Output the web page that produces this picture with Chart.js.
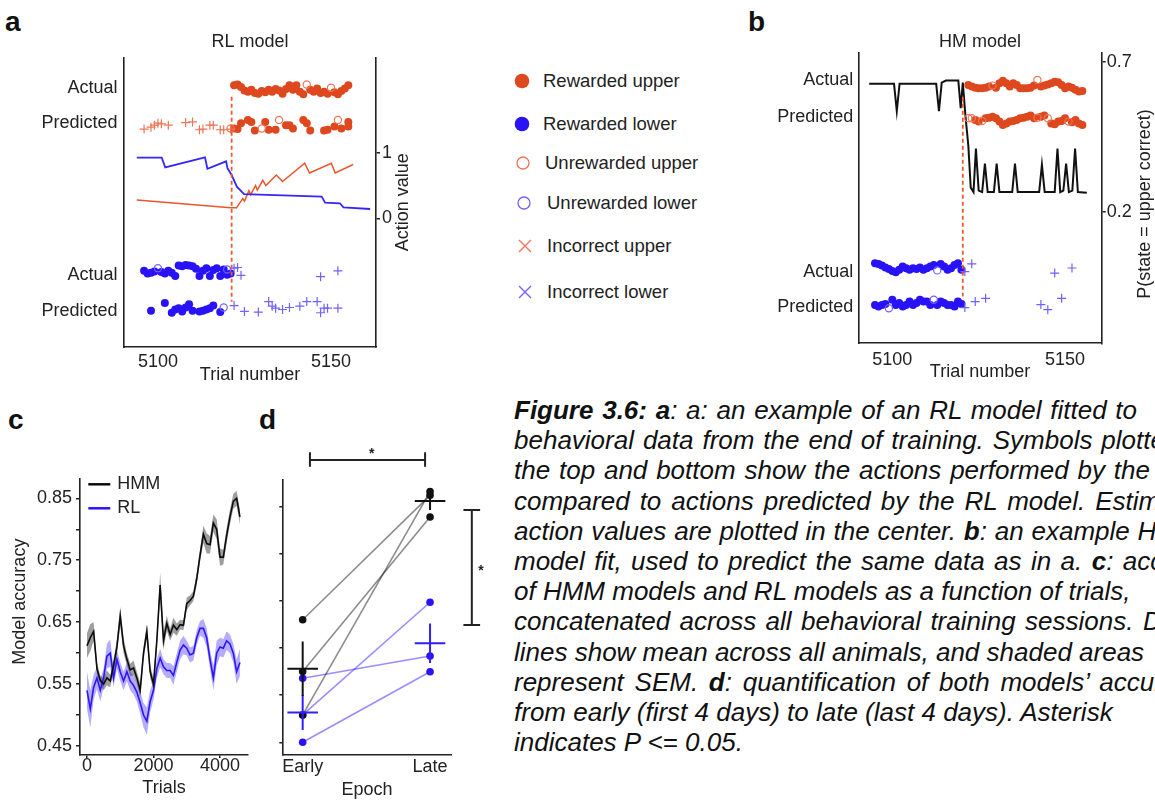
<!DOCTYPE html>
<html>
<head>
<meta charset="UTF-8">
<title>Figure 3.6 - RL vs HMM model fits</title>
<script src="https://cdn.jsdelivr.net/npm/chart.js@4.4.1/dist/chart.umd.min.js"></script>
<style>
  body { margin: 0; width: 1155px; height: 801px; overflow: hidden; background: #fff; position: relative;
         font-family: 'Liberation Sans', Arial, sans-serif; color: #111; }
  canvas { position: absolute; }
  .lab { position: absolute; font-weight: bold; font-size: 28px; line-height: 28px; }
  .leg { position: absolute; font-size: 18.5px; line-height: 22px; white-space: nowrap; color: #222; }
  .legmark { position: absolute; }
  #caption { position: absolute; left: 514px; top: 395px; font-style: italic; font-size: 26px;
             line-height: 30.2px; white-space: nowrap; }
</style>
</head>
<body>
<div class="lab" style="left:5px; top:8px;">a</div>
<div class="lab" style="left:748px; top:8px;">b</div>
<div class="lab" style="left:8px; top:406px;">c</div>
<div class="lab" style="left:259px; top:406px;">d</div>

<canvas id="chartA" width="430" height="390" style="left:0px; top:0px;"></canvas>
<canvas id="chartB" width="415" height="390" style="left:740px; top:0px;"></canvas>
<canvas id="chartC" width="260" height="406" style="left:0px; top:395px;"></canvas>
<canvas id="chartD" width="240" height="406" style="left:260px; top:395px;"></canvas>
<div id="legend"></div>

<div id="caption">
<div style="word-spacing:1.5px"><b>Figure 3.6: a</b>: a: an example of an RL model fitted to</div>
<div style="word-spacing:1.7px">behavioral data from the end of training. Symbols plotted at</div>
<div style="word-spacing:1.6px">the top and bottom show the actions performed by the animal</div>
<div style="word-spacing:2.8px">compared to actions predicted by the RL model. Estimated</div>
<div style="word-spacing:0.6px">action values are plotted in the center. <b>b</b>: an example HMM</div>
<div style="word-spacing:2.2px">model fit, used to predict the same data as in a. <b>c</b>: accuracy</div>
<div>of HMM models and RL models as a function of trials,</div>
<div style="word-spacing:2.2px">concatenated across all behavioral training sessions. Dark</div>
<div>lines show mean across all animals, and shaded areas</div>
<div style="word-spacing:3.5px">represent SEM. <b>d</b>: quantification of both models’ accuracy</div>
<div>from early (first 4 days) to late (last 4 days). Asterisk</div>
<div>indicates P &lt;= 0.05.</div>
</div>

<script>
// ---------- panel a : RL model (trial, value) ----------
// rows: action value units, rows placed above/below the value lines
const aRowLabels = ['Actual', 'Predicted', 'Actual', 'Predicted'];
const aRowPos = [1.986, 1.448, -0.872, -1.413];

const aActUpRew = [[5122,2.03],[5123,2.04],[5124,2.0],[5125,1.95],[5126,1.93],[5127,1.96],[5128,1.91],[5129,1.9],
  [5130,1.94],[5131,1.92],[5132,1.96],[5133,1.93],[5134,1.97],[5135,1.95],[5136,1.9],[5137,1.97],[5138,2.03],
  [5139,1.96],[5140,2.03],[5141,1.93],[5142,1.89],[5144,1.96],[5145,1.93],[5146,1.98],[5147,1.91],[5148,1.93],
  [5149,1.9],[5151,1.92],[5152,1.89],[5153,1.94],[5154,1.98],[5155,2.03]];
const aActUpUnrew = [[5143,2.04],[5150,1.99]];
const aPredUpRew = [[5122,1.37],[5123,1.36],[5124,1.45],[5126,1.5],[5127,1.47],[5128,1.34],[5131,1.47],[5132,1.35],
  [5134,1.35],[5137,1.42],[5138,1.42],[5139,1.37],[5142,1.5],[5143,1.45],[5144,1.34],[5148,1.34],[5149,1.35],
  [5151,1.4],[5153,1.37],[5155,1.47],[5155,1.4]];
const aPredUpUnrew = [[5121,1.37],[5130,1.37],[5135,1.5],[5152,1.5]];
const aPredUpWrong = [[5096,1.36],[5098,1.39],[5099,1.42],[5100,1.45],[5101,1.44],[5103,1.42],[5108,1.46],
  [5110,1.47],[5112,1.35],[5113,1.36],[5115,1.42],[5116,1.42],[5118,1.35],[5119,1.35],[5121,1.36]];
const aActLowRew = [[5096,-0.8],[5097,-0.84],[5098,-0.83],[5099,-0.81],[5101,-0.82],[5102,-0.84],[5103,-0.8],
  [5104,-0.83],[5105,-0.88],[5106,-0.72],[5107,-0.73],[5108,-0.71],[5109,-0.72],[5110,-0.73],[5111,-0.77],
  [5112,-0.88],[5113,-0.8],[5114,-0.76],[5115,-0.88],[5116,-0.79],[5117,-0.76],[5118,-0.88],[5119,-0.78],
  [5120,-0.86],[5121,-0.84]];
const aActLowUnrew = [[5100,-0.76],[5120,-0.78]];
const aActLowWrong = [[5122,-0.76],[5123,-0.75],[5124,-0.87],[5147,-0.89],[5152,-0.8]];
const aPredLowRew = [[5098,-1.41],[5102,-1.29],[5104,-1.44],[5105,-1.39],[5106,-1.37],[5107,-1.42],[5108,-1.36],
  [5109,-1.31],[5110,-1.41],[5112,-1.42],[5113,-1.41],[5114,-1.39],[5115,-1.37],[5116,-1.33],[5118,-1.43]];
const aPredLowUnrew = [[5119,-1.36]];
const aPredLowWrong = [[5122,-1.33],[5125,-1.42],[5129,-1.43],[5132,-1.27],[5133,-1.34],[5134,-1.37],[5136,-1.39],
  [5138,-1.36],[5141,-1.34],[5143,-1.27],[5146,-1.27],[5147,-1.44],[5148,-1.37],[5149,-1.37],[5152,-1.37]];

// action values
const aLowerValTrials = [5093.9, 5101.1, 5102.1, 5113.6, 5114.3, 5119.7, 5120.1, 5121.3, 5122.8, 5124.9,
  5147.3, 5148.3, 5152.6, 5153.6, 5161.3];
const aLowerVal = [0.924, 0.924, 0.777, 0.93, 0.756, 0.869, 0.762, 0.66, 0.482, 0.37, 0.33, 0.238, 0.229, 0.168, 0.142];
const aUpperValTrials = [5093.9, 5121, 5122.7, 5124.5, 5125, 5126.3, 5126.8, 5128.2, 5128.7, 5130.3, 5131.2,
  5134.2, 5136, 5142.4, 5143.8, 5150.1, 5151.2, 5156.4];
const aUpperVal = [0.28, 0.16, 0.16, 0.3, 0.26, 0.42, 0.36, 0.5, 0.43, 0.58, 0.5, 0.66, 0.56, 0.84, 0.69, 0.84, 0.69, 0.82];
const aSwitchTrial = 5121.3;
const aSwitchSpan = [1.854, -1.271];

// ---------- panel b : HM model ----------
const bRowPos = [0.639, 0.514, 0.0, -0.119];
const bActUpRew = [[5122,.622],[5123,.617],[5124,.613],[5125,.611],[5126,.611],[5127,.613],[5128,.617],[5130,.613],
  [5131,.628],[5132,.636],[5133,.628],[5134,.617],[5135,.628],[5136,.622],[5137,.611],[5138,.611],[5139,.611],
  [5140,.613],[5141,.62],[5143,.617],[5144,.62],[5145,.624],[5146,.628],[5147,.633],[5148,.631],[5149,.622],
  [5150,.611],[5151,.617],[5152,.613],[5153,.606],[5154,.6],[5155,.602]];
const bActUpUnrew = [[5129,.62],[5142,.639]];
const bPredUpRew = [[5124,.505],[5125,.5],[5127,.511],[5128,.513],[5129,.516],[5130,.511],[5131,.5],[5132,.489],
  [5133,.494],[5134,.5],[5135,.502],[5136,.505],[5137,.511],[5138,.513],[5139,.516],[5140,.52],[5141,.511],
  [5143,.516],[5144,.52],[5146,.494],[5147,.491],[5148,.5],[5149,.502],[5150,.511],[5152,.498],[5153,.505],
  [5154,.494],[5155,.489]];
const bPredUpUnrew = [[5122,.511],[5123,.511],[5126,.502],[5142,.513],[5145,.511],[5151,.5]];
const bActLowRew = [[5095,.028],[5096,.025],[5097,.02],[5098,.014],[5099,.009],[5100,.002],[5101,-.002],[5102,.006],
  [5103,.017],[5104,.011],[5105,.006],[5106,.011],[5107,.009],[5108,.014],[5109,.006],[5110,.011],[5111,.017],
  [5112,.022],[5114,.025],[5115,.017],[5116,.006],[5117,.011],[5118,.022],[5119,.028],[5120,.006]];
const bActLowUnrew = [[5113,.004]];
const bActLowWrong = [[5121,0.0],[5123,.026],[5147,-.005],[5152,.012]];
const bPredLowRew = [[5095,-.111],[5096,-.116],[5097,-.111],[5098,-.108],[5100,-.094],[5101,-.111],[5102,-.105],
  [5103,-.116],[5104,-.111],[5105,-.1],[5106,-.111],[5107,-.105],[5108,-.094],[5109,-.1],[5110,-.1],[5111,-.111],
  [5113,-.111],[5114,-.1],[5115,-.105],[5116,-.111],[5117,-.111],[5118,-.116],[5119,-.1],[5120,-.108]];
const bPredLowUnrew = [[5099,-.122],[5112,-.094]];
const bPredLowWrong = [[5121,-.12],[5124,-.1],[5127,-.089],[5143,-.11],[5145,-.127],[5149,-.089]];

const bPTrials = [5093.3, 5100.5, 5101.3, 5102.1, 5112.7, 5113.5, 5114.3, 5115.5, 5119.1, 5119.8, 5120.4, 5121.2,
  5122, 5122.7, 5123.5, 5124.2, 5125, 5126, 5126.8, 5127.6, 5129.4, 5130.2, 5131, 5134.7, 5135.5, 5136.3,
  5142.5, 5143.3, 5144.1, 5147, 5147.8, 5148.6, 5149.5, 5150.3, 5151.1, 5152.1, 5152.9, 5153.7, 5156.3];
const bPUpper = [0.626, 0.626, 0.535, 0.626, 0.626, 0.535, 0.63, 0.637, 0.637, 0.545, 0.63, 0.515,
  0.42, 0.28, 0.265, 0.41, 0.27, 0.265, 0.36, 0.265, 0.265, 0.36, 0.265, 0.265, 0.36, 0.265,
  0.265, 0.356, 0.265, 0.265, 0.41, 0.265, 0.27, 0.36, 0.265, 0.27, 0.41, 0.265, 0.263];
const bSwitchTrial = 5120.4;
const bSwitchSpan = [0.583, -0.083];

// ---------- panel c : accuracy over trials ----------
const cSeriesNames = ['HMM', 'RL'];
const cTrials = [0,100,200,300,400,500,600,700,800,900,1000,1100,1200,1300,1400,1500,1600,1700,1800,1900,
  2000,2100,2200,2300,2400,2500,2600,2700,2800,2900,3000,3100,3200,3300,3400,3500,3600,3700,3800,3900,
  4000,4100,4200,4300,4400,4500,4600];
const hmmAcc = [0.612,0.625,0.635,0.575,0.556,0.55,0.56,0.555,0.58,0.61,
  0.66,0.612,0.59,0.573,0.576,0.56,0.54,0.6,0.635,0.57,
  0.55,0.62,0.71,0.62,0.648,0.63,0.645,0.638,0.646,0.645,
  0.68,0.685,0.692,0.72,0.758,0.792,0.777,0.775,0.81,0.8,
  0.755,0.755,0.79,0.82,0.845,0.85,0.82];
const hmmSem = [0.02,0.022,0.015,0.01,0.008,0.01,0.012,0.01,0.01,0.012,
  0.015,0.012,0.01,0.01,0.012,0.01,0.012,0.01,0.012,0.01,
  0.01,0.012,0.02,0.015,0.012,0.01,0.012,0.01,0.008,0.008,
  0.01,0.008,0.008,0.01,0.01,0.014,0.016,0.014,0.014,0.016,
  0.014,0.012,0.012,0.012,0.012,0.012,0.012];
const rlAcc = [0.54,0.51,0.545,0.56,0.54,0.56,0.595,0.6,0.56,0.59,
  0.57,0.555,0.57,0.555,0.548,0.537,0.52,0.5,0.49,0.522,
  0.54,0.575,0.592,0.578,0.572,0.572,0.564,0.585,0.605,0.613,
  0.608,0.597,0.6,0.625,0.64,0.64,0.625,0.59,0.56,0.6,
  0.61,0.608,0.62,0.615,0.6,0.57,0.585];
const rlSem = [0.03,0.03,0.02,0.018,0.018,0.015,0.02,0.022,0.015,0.015,
  0.015,0.015,0.015,0.015,0.015,0.015,0.018,0.02,0.022,0.018,
  0.015,0.015,0.015,0.012,0.012,0.012,0.015,0.015,0.015,0.015,
  0.012,0.012,0.012,0.012,0.012,0.015,0.015,0.015,0.02,0.02,
  0.015,0.015,0.015,0.015,0.015,0.02,0.022];
const cTickVals = [0.45, 0.5, 0.55, 0.6, 0.65, 0.7, 0.75, 0.8, 0.85];
const cTickLabels = ['0.45', '', '0.55', '', '0.65', '', '0.75', '', '0.85'];
const cTrialTicks = [0, 2000, 4000];

// ---------- panel d : early vs late ----------
const dEpochs = ['Early', 'Late'];
const dHmmEarly = [0.58, 0.525, 0.479];
const dHmmLate = [0.712, 0.689, 0.716];
const dRlEarly = [0.518, 0.479, 0.45];
const dRlLate = [0.5416, 0.5986, 0.5249];
const dHmmMean = [0.528, 0.706];
const dHmmSem = [0.029, 0.0095];
const dRlMean = [0.4815, 0.555];
const dRlSem = [0.0186, 0.021];
const dTickVals = [0.45, 0.5, 0.55, 0.6, 0.65, 0.7];
const sigTopX = [0.057, 0.057, 0.057, 0.961, 0.961, 0.961];
const sigTopY = [0.7424, 0.7577, 0.7496, 0.7496, 0.7577, 0.7424];
const sigRightX = [1.262, 1.393, 1.328, 1.328, 1.262, 1.393];
const sigRightY = [0.6965, 0.6965, 0.6965, 0.5745, 0.5745, 0.5745];
const sigStars = [[0.542, 0.7584], [1.40, 0.6346]];

// ---------- legend (between a and b) ----------
const legendLabels = ['Rewarded upper', 'Rewarded lower', 'Unrewarded upper', 'Unrewarded lower',
  'Incorrect upper', 'Incorrect lower'];
const legendKinds = ['filled', 'filled', 'open', 'open', 'cross', 'cross'];

// ---------- styling ----------
const RED = 'rgb(222,72,30)';
const RED_LIGHT = 'rgb(238,118,88)';
const BLUE = 'rgb(40,18,246)';
const BLUE_LIGHT = 'rgb(112,98,255)';
const AX = '#222';
const FONT = "'Liberation Sans', Arial, sans-serif";

Chart.defaults.font.family = FONT;
Chart.defaults.font.size = 18;
Chart.defaults.color = AX;
Chart.defaults.animation = false;
Chart.defaults.responsive = false;
Chart.defaults.devicePixelRatio = 1;
Chart.defaults.events = [];
Chart.defaults.plugins.legend.display = false;
Chart.defaults.plugins.tooltip.enabled = false;

function pts(arr) { return arr.map(p => ({x: p[0], y: p[1]})); }
function zip(xs, ys) { return xs.map((x, i) => ({x: x, y: ys[i]})); }
function fixedTicks(vals) { return s => { s.ticks = vals.map(v => ({value: v})); }; }
const border = {color: AX, width: 1.6};
const noGrid = {display: false, drawTicks: false};
function tickMarks(len) {
  return {display: true, drawOnChartArea: false, drawTicks: true, tickLength: len, color: AX, lineWidth: 1.5};
}

function filled(data, color) {
  return {type: 'scatter', data: pts(data), pointStyle: 'circle', pointRadius: 4,
          backgroundColor: color, borderColor: color, borderWidth: 0, order: 2};
}
function open(data, color) {
  return {type: 'scatter', data: pts(data), pointStyle: 'circle', pointRadius: 3.6,
          backgroundColor: 'rgba(255,255,255,0)', borderColor: color, borderWidth: 1.2, order: 1};
}
function plus(data, color) {
  return {type: 'scatter', data: pts(data), pointStyle: 'cross', pointRadius: 4.5,
          borderColor: color, borderWidth: 1.2, order: 1};
}
function line(data, color, width, order) {
  return {type: 'line', data: data, borderColor: color, borderWidth: width, pointRadius: 0,
          tension: 0, fill: false, order: order};
}
function dashed(trial, span) {
  return {type: 'line', data: [{x: trial, y: span[0]}, {x: trial, y: span[1]}], borderColor: 'rgb(232,92,52)',
          borderWidth: 1.8, borderDash: [4, 3], pointRadius: 0, order: 0};
}

// rotated axis label beside the plot (reads bottom to top)
const sideTitle = {
  id: 'sideTitle',
  afterDraw(chart, args, opts) {
    const a = chart.chartArea, ctx = chart.ctx;
    const x = opts.side === 'left' ? a.left - opts.offset : a.right + opts.offset;
    ctx.save();
    ctx.font = '18px ' + FONT;
    ctx.fillStyle = AX;
    ctx.textAlign = 'center';
    ctx.textBaseline = 'middle';
    ctx.translate(x, (a.top + a.bottom) / 2 + (opts.dy || 0));
    ctx.rotate(-Math.PI / 2);
    ctx.fillText(opts.text, 0, 0);
    ctx.restore();
  }
};

// legend inside the plot of panel c
const innerLegend = {
  id: 'innerLegend',
  afterDraw(chart, args, opts) {
    const a = chart.chartArea, ctx = chart.ctx;
    ctx.save();
    ctx.font = '18px ' + FONT;
    ctx.textBaseline = 'middle';
    opts.items.forEach((it, i) => {
      const y = a.top + opts.top + i * opts.gap;
      ctx.strokeStyle = it.color;
      ctx.lineWidth = 2.5;
      ctx.beginPath();
      ctx.moveTo(a.left + opts.left, y);
      ctx.lineTo(a.left + opts.left + opts.len, y);
      ctx.stroke();
      ctx.fillStyle = AX;
      ctx.fillText(it.text, a.left + opts.left + opts.len + 7, y);
    });
    ctx.restore();
  }
};

// significance asterisks for panel d
const stars = {
  id: 'stars',
  afterDatasetsDraw(chart, args, opts) {
    const ctx = chart.ctx, x = chart.scales.x, y = chart.scales.y;
    ctx.save();
    ctx.font = 'bold 14px ' + FONT;
    ctx.fillStyle = AX;
    ctx.textAlign = 'center';
    ctx.textBaseline = 'middle';
    opts.points.forEach(p => ctx.fillText('*', x.getPixelForValue(p[0]), y.getPixelForValue(p[1]) + 3));
    ctx.restore();
  }
};

// ---------- chart a ----------
new Chart(document.getElementById('chartA'), {
  type: 'scatter',
  data: {
    datasets: [
      dashed(aSwitchTrial, aSwitchSpan),
      filled(aActUpRew, RED), open(aActUpUnrew, RED_LIGHT),
      filled(aPredUpRew, RED), open(aPredUpUnrew, RED_LIGHT), plus(aPredUpWrong, RED_LIGHT),
      filled(aActLowRew, BLUE), open(aActLowUnrew, BLUE_LIGHT), plus(aActLowWrong, BLUE_LIGHT),
      filled(aPredLowRew, BLUE), open(aPredLowUnrew, BLUE_LIGHT), plus(aPredLowWrong, BLUE_LIGHT),
      line(zip(aLowerValTrials, aLowerVal), 'rgb(52,40,246)', 1.8, 5),
      line(zip(aUpperValTrials, aUpperVal), 'rgb(232,86,46)', 1.5, 5)
    ]
  },
  options: {
    layout: {padding: 0},
    plugins: {
      title: {display: true, text: 'RL model', color: AX, font: {size: 18, weight: 'normal'}, fullSize: false,
              padding: {top: 31, bottom: 5}},
      sideTitle: {text: 'Action value', offset: 27}
    },
    scales: {
      x: {type: 'linear', position: 'bottom', min: 5090.2, max: 5163,
          afterBuildTicks: fixedTicks([5100, 5150]),
          ticks: {callback: v => String(v), maxRotation: 0, padding: 4},
          grid: noGrid, border: border,
          title: {display: true, text: 'Trial number', padding: {top: 0, bottom: 4}},
          afterFit: s => { s.height = 43; }},
      y: {type: 'linear', position: 'right', min: -1.962, max: 2.45,
          afterBuildTicks: fixedTicks([0, 1]),
          ticks: {callback: v => String(v), padding: 2},
          grid: tickMarks(4), border: border,
          afterFit: s => { s.width = 54; }},
      yl: {type: 'linear', position: 'left', min: -1.962, max: 2.45,
           afterBuildTicks: fixedTicks(aRowPos),
           ticks: {callback: (v, i) => aRowLabels[i], padding: 6.5},
           grid: noGrid, border: border,
           afterFit: s => { s.width = 124; }}
    }
  },
  plugins: [sideTitle]
});

// ---------- chart b ----------
new Chart(document.getElementById('chartB'), {
  type: 'scatter',
  data: {
    datasets: [
      dashed(bSwitchTrial, bSwitchSpan),
      filled(bActUpRew, RED), open(bActUpUnrew, RED_LIGHT),
      filled(bPredUpRew, RED), open(bPredUpUnrew, RED_LIGHT),
      filled(bActLowRew, BLUE), open(bActLowUnrew, BLUE_LIGHT), plus(bActLowWrong, BLUE_LIGHT),
      filled(bPredLowRew, BLUE), open(bPredLowUnrew, BLUE_LIGHT), plus(bPredLowWrong, BLUE_LIGHT),
      line(zip(bPTrials, bPUpper), '#111', 2, 5)
    ]
  },
  options: {
    layout: {padding: 0},
    plugins: {
      title: {display: true, text: 'HM model', color: AX, font: {size: 18, weight: 'normal'}, fullSize: false,
              padding: {top: 31, bottom: 0}},
      sideTitle: {text: 'P(state = upper correct)', offset: 43.3, dy: 6}
    },
    scales: {
      x: {type: 'linear', position: 'bottom', min: 5090.16, max: 5160.6,
          afterBuildTicks: fixedTicks([5100, 5150]),
          ticks: {callback: v => String(v), maxRotation: 0, padding: 5.6},
          grid: noGrid, border: border,
          title: {display: true, text: 'Trial number', padding: {top: 0, bottom: 6.7}},
          afterFit: s => { s.height = 46.7; }},
      y: {type: 'linear', position: 'right', min: -0.239, max: 0.730,
          afterBuildTicks: fixedTicks([0.2, 0.7]),
          ticks: {callback: v => v.toFixed(1), padding: 1},
          grid: tickMarks(4), border: border,
          afterFit: s => { s.width = 53.3; }},
      yl: {type: 'linear', position: 'left', min: -0.239, max: 0.730,
           afterBuildTicks: fixedTicks(bRowPos),
           ticks: {callback: (v, i) => aRowLabels[i], padding: 5},
           grid: noGrid, border: border,
           afterFit: s => { s.width = 118.3; }}
    }
  },
  plugins: [sideTitle]
});

// ---------- chart c ----------
const hmmHi = hmmAcc.map((v, i) => v + hmmSem[i]);
const hmmLo = hmmAcc.map((v, i) => v - hmmSem[i]);
const rlHi = rlAcc.map((v, i) => v + rlSem[i]);
const rlLo = rlAcc.map((v, i) => v - rlSem[i]);
const HMM_COL = '#0c0c0c';
const RL_COL = 'rgb(44,22,250)';

new Chart(document.getElementById('chartC'), {
  type: 'line',
  data: {
    datasets: [
      line(zip(cTrials, hmmAcc), HMM_COL, 1.6, 1),
      line(zip(cTrials, rlAcc), RL_COL, 1.6, 2),
      {type: 'line', data: zip(cTrials, hmmHi), borderWidth: 0, pointRadius: 0, fill: '+1',
       backgroundColor: 'rgba(40,40,40,0.45)', order: 3},
      {type: 'line', data: zip(cTrials, hmmLo), borderWidth: 0, pointRadius: 0, fill: false, order: 3},
      {type: 'line', data: zip(cTrials, rlHi), borderWidth: 0, pointRadius: 0, fill: '+1',
       backgroundColor: 'rgba(90,70,255,0.45)', order: 4},
      {type: 'line', data: zip(cTrials, rlLo), borderWidth: 0, pointRadius: 0, fill: false, order: 4}
    ]
  },
  options: {
    layout: {padding: {top: 83.3, right: 12, left: 0, bottom: 0}},
    plugins: {
      innerLegend: {items: [{text: cSeriesNames[0], color: HMM_COL}, {text: cSeriesNames[1], color: RL_COL}],
                    left: 8.3, top: 6, gap: 24, len: 22},
      sideTitle: {text: 'Model accuracy', side: 'left', offset: 60, dy: -15}
    },
    scales: {
      x: {type: 'linear', position: 'bottom', min: -210, max: 4842,
          afterBuildTicks: fixedTicks(cTrialTicks),
          ticks: {callback: v => String(v), maxRotation: 0, padding: -3},
          grid: tickMarks(3), border: border,
          title: {display: true, text: 'Trials', padding: {top: 0, bottom: 2}},
          afterFit: s => { s.height = 46; }},
      y: {type: 'linear', position: 'left', min: 0.4355, max: 0.8823,
          afterBuildTicks: fixedTicks(cTickVals),
          ticks: {callback: (v, i) => cTickLabels[i], padding: 4},
          grid: tickMarks(4), border: border,
          afterFit: s => { s.width = 80; }}
    }
  },
  plugins: [innerLegend, sideTitle]
});

// ---------- chart d ----------
const GRAY_LINK = 'rgba(0,0,0,0.45)';
const BLUE_LINK = 'rgba(70,50,255,0.55)';
function pairLines(early, late, lineCol, dotCol) {
  return early.map((e, i) => ({
    type: 'line', data: [{x: 0, y: e}, {x: 1, y: late[i]}], borderColor: lineCol, borderWidth: 1.6,
    pointRadius: 3.8, pointBackgroundColor: dotCol, pointBorderWidth: 0, order: 4
  }));
}
function crosses(mean, sem, col) {
  const half = 0.12;
  const data = [];
  mean.forEach((m, i) => {
    data.push({x: i - half, y: m}, {x: i + half, y: m}, {x: i, y: null},
              {x: i, y: m - sem[i]}, {x: i, y: m + sem[i]}, {x: i, y: null});
  });
  return {type: 'line', data: data, borderColor: col, borderWidth: 2, pointRadius: 0, spanGaps: false, order: 1};
}
function bracket(xs, ys) {
  return {type: 'line', data: zip(xs, ys), borderColor: AX, borderWidth: 2, pointRadius: 0, clip: false, order: 0};
}

new Chart(document.getElementById('chartD'), {
  type: 'line',
  data: {
    datasets: [
      ...pairLines(dHmmEarly, dHmmLate, GRAY_LINK, '#111'),
      ...pairLines(dRlEarly, dRlLate, BLUE_LINK, 'rgb(40,18,246)'),
      crosses(dHmmMean, dHmmSem, '#111'),
      crosses(dRlMean, dRlSem, 'rgb(50,30,250)'),
      bracket(sigTopX, sigTopY),
      bracket(sigRightX, sigRightY)
    ]
  },
  options: {
    layout: {padding: {top: 85, right: 48.3, left: 0, bottom: 0}},
    plugins: {stars: {points: sigStars}},
    scales: {
      x: {type: 'linear', position: 'bottom', min: -0.16, max: 1.17,
          afterBuildTicks: fixedTicks([0, 1]),
          ticks: {callback: (v, i) => dEpochs[i], maxRotation: 0, padding: 1},
          grid: noGrid, border: border,
          title: {display: true, text: 'Epoch', padding: {top: 0, bottom: 0}},
          afterFit: s => { s.height = 46; }},
      y: {type: 'linear', position: 'left', min: 0.4365, max: 0.7283,
          afterBuildTicks: fixedTicks(dTickVals),
          ticks: {callback: () => '', padding: 0},
          grid: tickMarks(3), border: border,
          afterFit: s => { s.width = 22.3; }}
    }
  },
  plugins: [stars]
});

// ---------- marker legend between panels a and b ----------
const legendColors = [RED, BLUE, RED_LIGHT, BLUE_LIGHT, RED_LIGHT, BLUE_LIGHT];
const legendY = [81, 123.5, 163, 203, 246, 292];
const legendMarkX = [522, 522, 523, 523.5, 524.5, 524.5];
const legendTextX = [543, 543, 545, 547, 547, 547];
function markerSvg(kind, color) {
  let shape;
  if (kind === 'filled') shape = '<circle cx="8" cy="8" r="7.3" fill="' + color + '"/>';
  else if (kind === 'open') shape = '<circle cx="8" cy="8" r="6" fill="none" stroke="' + color + '" stroke-width="1.3"/>';
  else shape = '<path d="M2,2 L14,14 M14,2 L2,14" stroke="' + color + '" stroke-width="1.4"/>';
  return '<svg width="16" height="16" viewBox="0 0 16 16">' + shape + '</svg>';
}
const legendBox = document.getElementById('legend');
legendLabels.forEach((label, i) => {
  const m = document.createElement('div');
  m.className = 'legmark';
  m.style.left = (legendMarkX[i] - 8) + 'px';
  m.style.top = (legendY[i] - 8) + 'px';
  m.innerHTML = markerSvg(legendKinds[i], legendColors[i]);
  legendBox.appendChild(m);
  const t = document.createElement('div');
  t.className = 'leg';
  t.style.left = legendTextX[i] + 'px';
  t.style.top = (legendY[i] - 11) + 'px';
  t.textContent = label;
  legendBox.appendChild(t);
});
</script>
</body>
</html>
